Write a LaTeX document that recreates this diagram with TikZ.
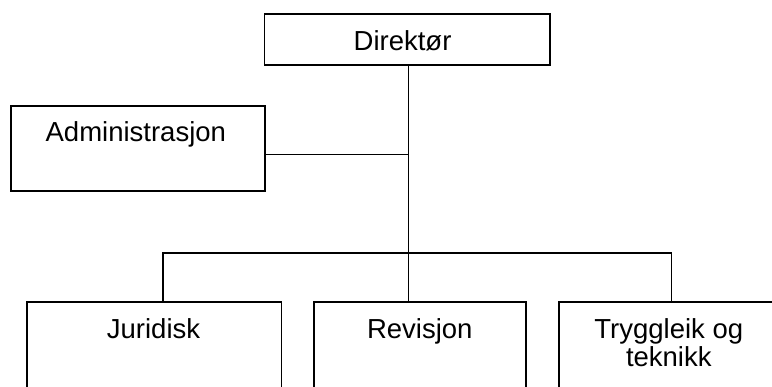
\documentclass[tikz,border=0pt]{standalone}
\usepackage{fontspec}
\setmainfont{Liberation Sans}
\usetikzlibrary{calc}
\begin{document}
\begin{tikzpicture}[x=1pt,y=-1pt,
  box/.style={draw,line width=1.6pt,rectangle,inner sep=0pt,anchor=north west},
  lbl/.style={font=\fontsize{27.5}{28.4}\selectfont,align=center,inner sep=0pt,anchor=base},
  conn/.style={line width=1.6pt}]
\useasboundingbox (0,0) rectangle (772,387);
\clip (0,0) rectangle (772,387);
\node[box,minimum width=285.5pt,minimum height=51pt] (dir) at (263.5,13.3) {};
\node[lbl] (dirt) at ($(dir.north)+(-4.5,37.4)$) {Direktør};
\node[box,minimum width=254pt,minimum height=85pt] (adm) at (10,105) {};
\node[lbl] (admt) at ($(adm.north)+(-2,36.7)$) {Administrasjon};
\node[box,minimum width=254.5pt,minimum height=110pt] (jur) at (26,301) {};
\node[lbl] (jurt) at ($(jur.north)+(-0.5,37.3)$) {Juridisk};
\node[box,minimum width=212pt,minimum height=110pt] (rev) at (313,301) {};
\node[lbl] (revt) at ($(rev.north)+(0,37.3)$) {Revisjon};
\node[box,minimum width=220pt,minimum height=110pt] (try) at (558,301) {};
\node[lbl] (tryt) at ($(try.north)+(0,65.7)$) {Tryggleik og\\teknikk};
\coordinate (b) at ($(dir.south)+(1.5,187.4)$);
\coordinate (a) at ($(dir.south)+(1.5,88.7)$);
\draw[conn] (dir.south -| b) -- (rev.north -| b);
\draw[conn] (adm.east |- a) -- (a);
\draw[conn] ($(jur.north west)+(137,0)$) |- (b);
\draw[conn] ($(try.north west)+(113.5,0)$) |- (b);
\end{tikzpicture}
\end{document}
